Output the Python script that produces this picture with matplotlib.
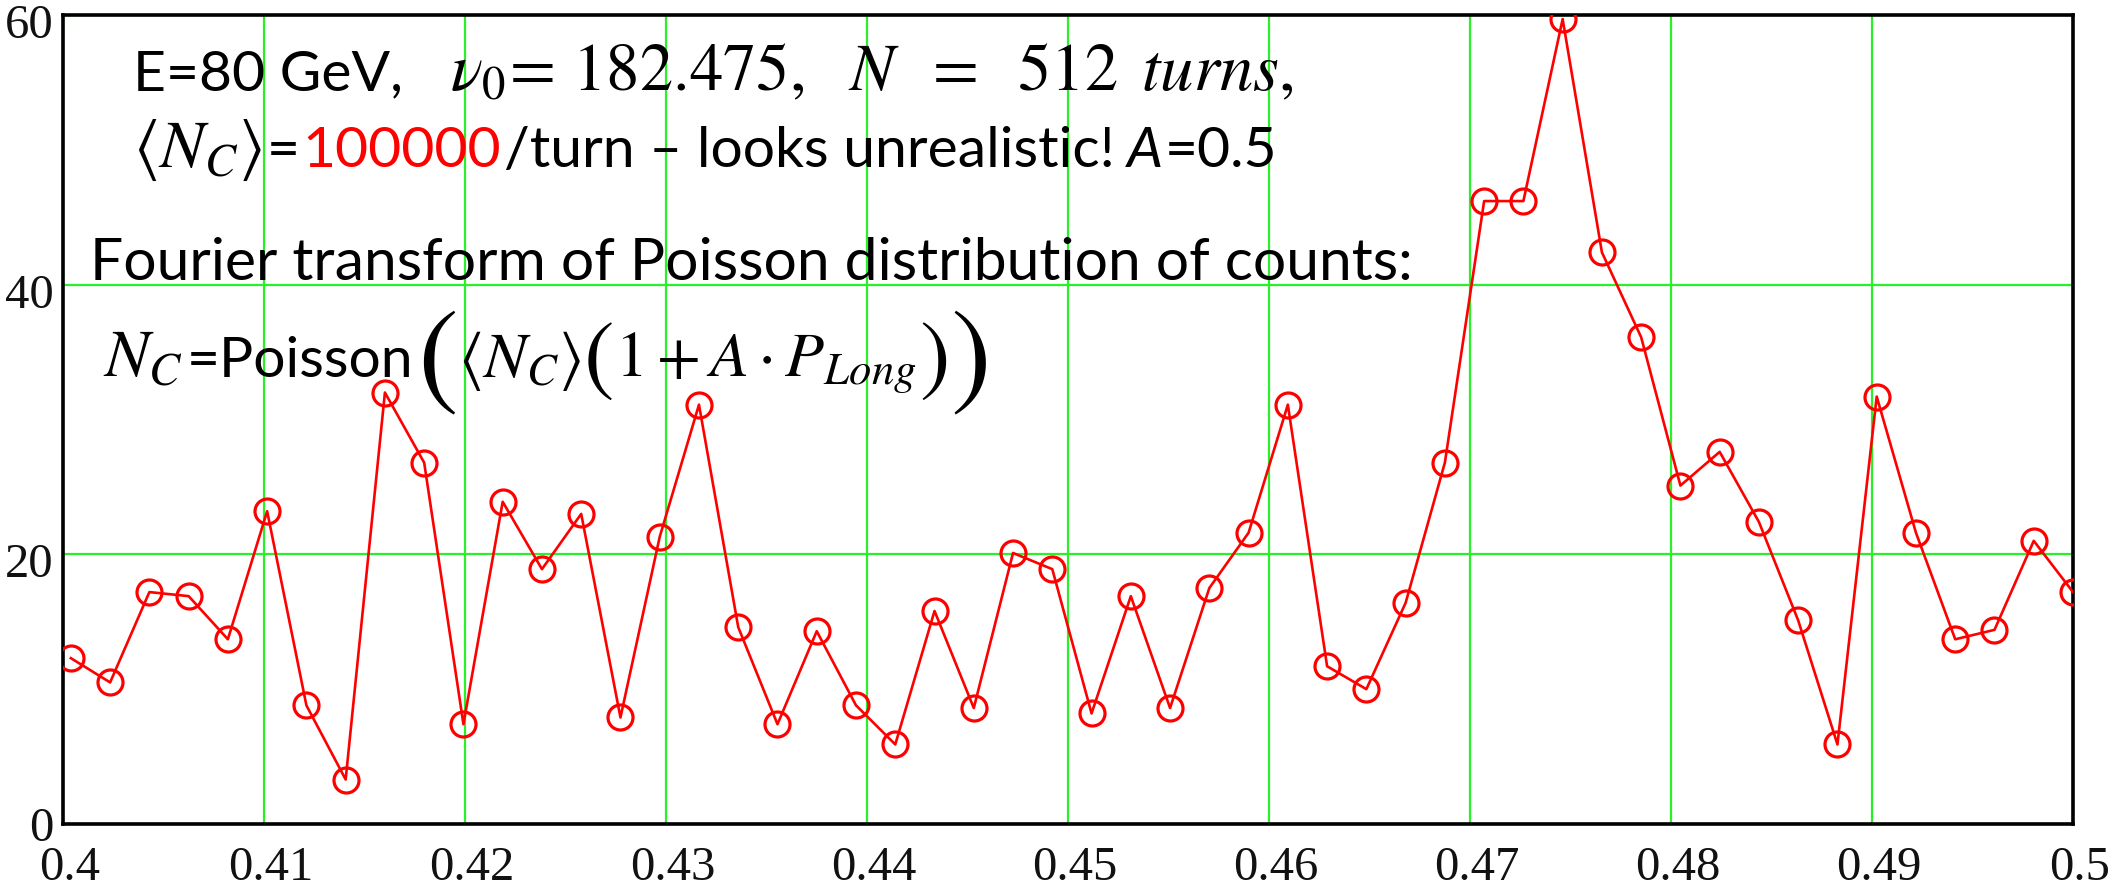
import numpy as np
import matplotlib
matplotlib.use("Agg")
import matplotlib.pyplot as plt
from matplotlib.transforms import ScaledTranslation

plt.rcParams['mathtext.fontset'] = 'stix'

# FFT bins of a 512-turn record, tune window 0.4 .. 0.5
n_turns = 512
bins = np.arange(205, 257)
tune = bins / n_turns
amp = [12.3, 10.5, 17.2, 16.9, 13.7, 23.2, 8.8, 3.3, 32.0, 26.8,
       7.4, 23.9, 18.9, 23.0, 7.9, 21.3, 31.1, 14.6, 7.4, 14.3,
       8.8, 5.9, 15.8, 8.6, 20.1, 18.9, 8.2, 16.9, 8.6, 17.5,
       21.6, 31.1, 11.7, 10.0, 16.4, 26.8, 46.2, 46.2, 59.7, 42.4,
       36.1, 25.1, 27.6, 22.4, 15.1, 5.9, 31.7, 21.6, 13.7, 14.4,
       21.0, 17.2]

xticks = [0.40, 0.41, 0.42, 0.43, 0.44, 0.45, 0.46, 0.47, 0.48, 0.49, 0.50]
xtick_labels = ['0.4', '0.41', '0.42', '0.43', '0.44', '0.45', '0.46', '0.47', '0.48', '0.49', '0.5']
yticks = [0, 20, 40, 60]
ytick_labels = ['0', '20', '40', '60']

W, H = 2120, 890
fig = plt.figure(figsize=(W / 100, H / 100), dpi=100)
ax = fig.add_axes([63 / W, 66 / H, 2010 / W, 809 / H])

ax.plot(tune, amp, color='#ff0000', lw=1.9, marker='o', ms=18, mfc='none',
        mec='#ff0000', mew=2.3, zorder=3)

ax.set_xlim(0.4, 0.5)
ax.set_ylim(0, 60)
ax.set_xticks(xticks)
ax.set_xticklabels(xtick_labels)
ax.set_yticks(yticks)
ax.set_yticklabels(ytick_labels)
ax.grid(True, color='#2af02a', lw=1.6, zorder=1)
ax.set_axisbelow(True)
for sp in ax.spines.values():
    sp.set_linewidth(2.6)
    sp.set_color('black')

ax.tick_params(length=0, labelsize=35, labelcolor='#111111')
ax.tick_params(axis='x', pad=16)
ax.tick_params(axis='y', pad=7)
for lbl in ax.get_xticklabels() + ax.get_yticklabels():
    lbl.set_family('Liberation Serif')
for lbl in ax.get_xticklabels():
    lbl.set_transform(lbl.get_transform() + ScaledTranslation(0.07, 0, fig.dpi_scale_trans))
for lbl in ax.get_yticklabels()[1:]:
    lbl.set_transform(lbl.get_transform() + ScaledTranslation(0, -0.06, fig.dpi_scale_trans))

# annotation text, placed piece by piece in pixel coordinates
renderer = fig.canvas.get_renderer()
sans = dict(family='Lato', size=41, color='black')
math = dict(size=48, color='black')


def put(x, y, s, va='baseline', **kw):
    t = fig.text(x / W, 1 - y / H, s, ha='left', va=va, zorder=5, **kw)
    return t.get_window_extent(renderer).x1


# line 1
put(133, 90, 'E=80 GeV,', **sans)
put(450, 90, r'$\nu_0\!=\,182.475,$', **math)
put(848, 90, r'$N\;\ =\;\ 512\ \,turns,$', **math)

# line 2
x = put(133, 167, r'$\langle N_C\rangle$', **math) + 5
x = put(x, 167, '=', **sans) + 3
x = put(x, 167, '100000', **dict(sans, color='#ff0000')) + 3
x = put(x, 167, '/turn \u2013 looks unrealistic!', **sans) + 12
x = put(x, 167, 'A', style='italic', **sans) + 2
put(x, 167, '=0.5', **sans)

# line 3
put(90, 280, 'Fourier transform of Poisson distribution of counts:', **dict(sans, size=42.3))

# line 4
x = put(103, 377, r'$N_C$', **math) + 4
x = put(x, 377, '=Poisson', **sans) + 3
x = put(x, 360, r'$($', va='center', size=88) + 2
x = put(x, 377, r'$\langle N_C\rangle$', **dict(math, size=46)) + 2
x = put(x, 358, r'$($', va='center', size=66) + 2
x = put(x, 377, r'$1 + A\cdot P_{Long}$', **dict(math, size=46)) + 3
x = put(x, 358, r'$)$', va='center', size=66) + 2
put(x, 360, r'$)$', va='center', size=88)

fig.savefig('out.png', dpi=100)
